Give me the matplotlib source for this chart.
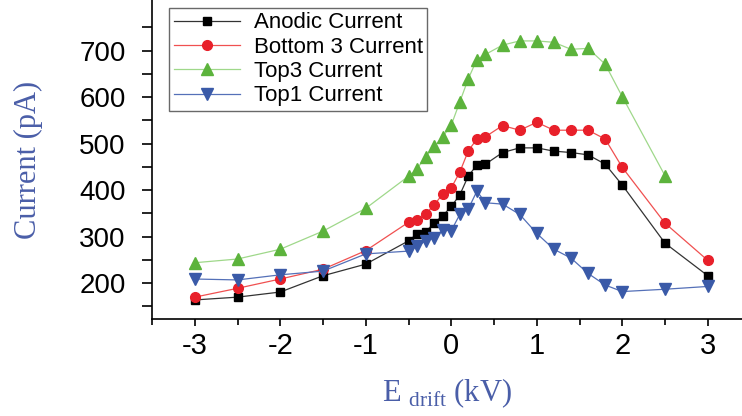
import numpy as np
import matplotlib
matplotlib.use("Agg")
import matplotlib.pyplot as plt

# drift voltage (kV)
e_drift = [-3, -2.5, -2, -1.5, -1, -0.5, -0.4, -0.3, -0.2, -0.1, 0, 0.1, 0.2,
           0.3, 0.4, 0.6, 0.8, 1.0, 1.2, 1.4, 1.6, 1.8, 2.0, 2.5, 3]

anodic = [164, 170, 181, 216, 241, 291, 306, 310, 330, 345, 365, 390, 431,
          454, 456, 481, 491, 491, 484, 481, 476, 456, 411, 286, 216]
bottom3 = [170, 189, 209, 230, 270, 331, 336, 349, 368, 392, 405, 439, 485,
           510, 515, 539, 529, 546, 529, 529, 529, 510, 449, 329, 249]
top3 = [244, 252, 273, 312, 361, 430, 446, 472, 494, 515, 540, 590, 640,
        681, 692, 712, 721, 721, 718, 703, 705, 671, 601, 431]
top1 = [209, 207, 218, 226, 263, 269, 279, 291, 297, 315, 313, 348, 360,
        398, 373, 370, 348, 307, 273, 254, 221, 196, 182, 187, 193]

plt.rcParams["axes.unicode_minus"] = False

fig = plt.figure(figsize=(7.42, 4.16), dpi=100)
ax = fig.add_axes([152 / 742, (416 - 319) / 416, 1 - 152 / 742, 319 / 416])

ax.plot(e_drift, anodic, color="#333333", lw=0.9, marker="s", ms=6,
        mfc="black", mec="black", label="Anodic Current")
ax.plot(e_drift, bottom3, color="#f05050", lw=0.9, marker="o", ms=7,
        mfc="#e8202a", mec="#e8202a", label="Bottom 3 Current")
ax.plot(e_drift[:len(top3)], top3, color="#9fd88a", lw=0.9, marker="^", ms=8,
        mfc="#5cb33c", mec="#5cb33c", label="Top3 Current")
ax.plot(e_drift, top1, color="#5470b8", lw=0.9, marker="v", ms=8,
        mfc="#3a5aa8", mec="#3a5aa8", label="Top1 Current")

ax.set_xlim(-3.5, 3.4)
ax.set_ylim(123, 809)
ax.set_xticks([-3, -2, -1, 0, 1, 2, 3])
ax.set_xticks(np.arange(-3.5, 3.5, 0.5), minor=True)
ax.set_yticks([200, 300, 400, 500, 600, 700])
ax.set_yticks(np.arange(150, 800, 50), minor=True)

for s in ["top", "right"]:
    ax.spines[s].set_visible(False)
ax.spines["left"].set_linewidth(1.2)
ax.spines["bottom"].set_linewidth(1.2)

ax.tick_params(axis="x", which="major", length=5, width=1.2, labelsize=21, pad=4)
ax.tick_params(axis="x", which="minor", length=4, width=1.2)
ax.tick_params(axis="y", which="major", length=7, width=1.2, labelsize=20, pad=12)
ax.tick_params(axis="y", which="minor", length=7, width=1.2)
for lbl in ax.get_xticklabels() + ax.get_yticklabels():
    lbl.set_family("Liberation Sans")

ax.set_ylabel("Current (pA)", family="Liberation Serif", fontsize=22,
              color="#4a5ea8", labelpad=26)
ax.set_xlabel(r"E $_{\mathregular{drift}}$ (kV)", family="Liberation Serif",
              fontsize=22, color="#4a5ea8", labelpad=12)

leg = ax.legend(loc="upper left", bbox_to_anchor=(0.029, 0.975),
                prop={"family": "Liberation Sans", "size": 16},
                frameon=True, fancybox=False, edgecolor="#444444",
                borderpad=0.2, labelspacing=0.15, handlelength=3.0,
                handletextpad=0.6, borderaxespad=0)
leg.get_frame().set_linewidth(1.0)

fig.savefig("out.png", dpi=100)
